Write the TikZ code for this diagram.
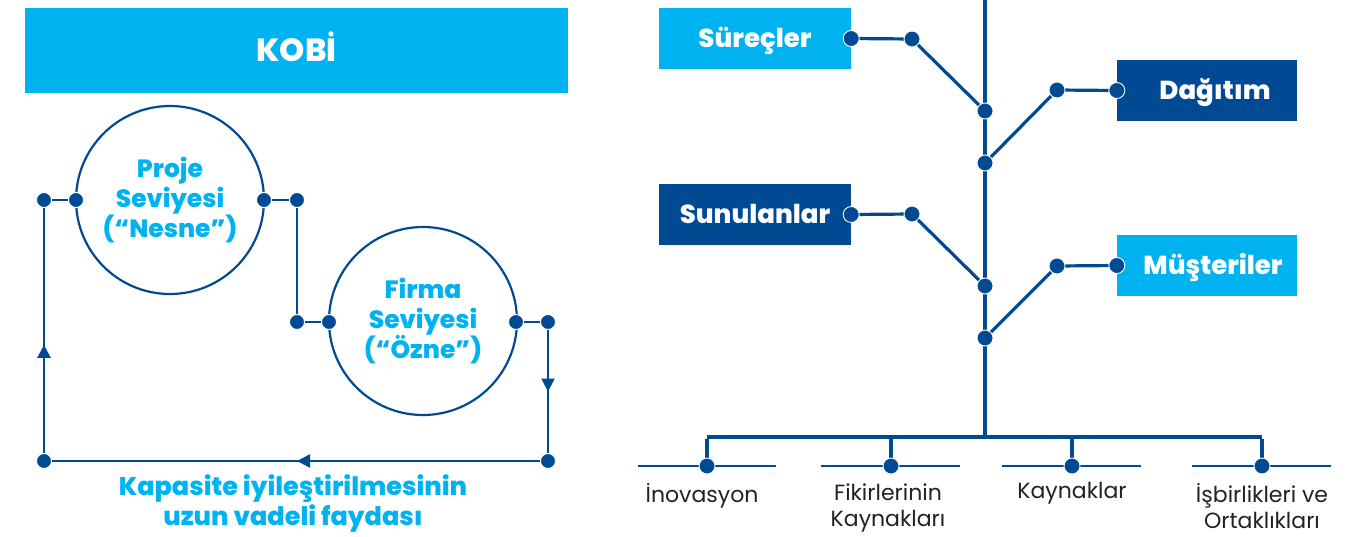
\documentclass[tikz,border=0pt]{standalone}
\usepackage{fontspec}
\setmainfont{Poppins}[BoldFont={Poppins ExtraBold}]
\usetikzlibrary{arrows.meta,decorations.markings}
\definecolor{cyanb}{HTML}{00B3F0}
\definecolor{navy}{HTML}{004A94}
\definecolor{txtgray}{HTML}{222222}
\tikzset{
  wire/.style={draw=navy, line width=3.2pt},
  loop/.style={draw=navy, line width=2.4pt},
  thin/.style={draw=navy, line width=1.1pt},
  dot/.style={circle, fill=navy, draw=white, line width=0.9pt, minimum size=16pt, inner sep=0pt},
  ring/.style={circle, draw=navy, line width=2.2pt, minimum size=188pt, inner sep=0pt,
    text=cyanb, font=\fontsize{25}{30}\selectfont\bfseries, align=center},
  tag/.style={rectangle, minimum width=192pt, minimum height=61pt, inner sep=0pt,
    text height=18.2pt, text depth=0pt,
    text=white, font=\fontsize{26}{28}\selectfont\bfseries},
  tagr/.style={tag, minimum width=180pt},
  leaf/.style={text=txtgray, font=\fontsize{22}{26}\selectfont, align=center, anchor=north},
  midarrow/.style={postaction={decorate}, decoration={markings,
    mark=at position #1 with {\arrow{Triangle[width=13pt,length=13pt]}}}},
}
\begin{document}
\begin{tikzpicture}[x=1pt, y=-1pt, navy]
\useasboundingbox (0,0) rectangle (1351,536);

% ---------- left: capability cycle ----------
\node[fill=cyanb, minimum width=543pt, minimum height=85pt, inner sep=0pt,
      text height=22.4pt, text depth=0pt,
      text=white, font=\fontsize{32}{34}\selectfont\bfseries] (kobi) at (296.5,50.5) {KOB\.I};

\node[ring] (proje) at (170,200) {Proje\\Seviyesi\\(“Nesne”)};
\node[ring] (firma) at (423,321) {Firma\\Seviyesi\\(“Özne”)};

\coordinate (a0) at (44,200);
\coordinate (a1) at (76,200);
\coordinate (a2) at (264,200);
\coordinate (a3) at (297,200);
\coordinate (a4) at (297,322);
\coordinate (a5) at (329,322);
\coordinate (a6) at (516,322);
\coordinate (a7) at (548,322);
\coordinate (a8) at (548,461);
\coordinate (a9) at (44,461);

\draw[loop] (a0) -- (a1);
\draw[loop] (a2) -- (a3) -- (a4) -- (a5);
\draw[loop] (a6) -- (a7);
\draw[loop, midarrow=0.5] (a7) -- (a8);
\draw[loop, midarrow=0.498] (a8) -- (a9);
\draw[loop, midarrow=0.445] (a9) -- (a0);

\foreach \p in {a0,a1,a2,a3,a4,a5,a6,a7,a8,a9}
  \node[dot, minimum size=15pt] at (\p) {};

\node[text=cyanb, font=\fontsize{25.5}{30}\selectfont\bfseries, align=center] (gain) at (293,504)
  {Kapasite iyileştirilmesinin\\uzun vadeli faydası};

% ---------- right: value tree ----------
\node[tag, fill=cyanb] (surec) at (755,38.5) {Süreçler};
\node[tag, fill=navy] (sunul) at (755,214.5) {Sunulanlar};
\node[tagr, fill=navy] (dagit) at (1207,90.5) {\hspace*{16pt}Dağıtım};
\node[tagr, fill=cyanb] (muste) at (1207,265.5) {\hspace*{12pt}Müşteriler};

\coordinate (top) at (985,0);
\coordinate (t1) at (985,111);
\coordinate (t2) at (985,163);
\coordinate (t3) at (985,286);
\coordinate (t4) at (985,338);
\coordinate (root) at (985,437);

\coordinate (s0) at (surec.east);
\coordinate (s1) at (912,39);
\coordinate (d0) at (dagit.west);
\coordinate (d1) at (1057,90);
\coordinate (u0) at (sunul.east);
\coordinate (u1) at (912,214);
\coordinate (m0) at (muste.west);
\coordinate (m1) at (1057,266);

\draw[wire] (top) -- (root);
\draw[wire] (s0) -- (s1) -- (t1);
\draw[wire] (t2) -- (d1) -- (d0);
\draw[wire] (u0) -- (u1) -- (t3);
\draw[wire] (t4) -- (m1) -- (m0);

% bottom bar and four leaves
\coordinate (b1) at (707,437);
\coordinate (b2) at (891,437);
\coordinate (b3) at (1072,437);
\coordinate (b4) at (1262,437);
\coordinate (l1) at (707,466);
\coordinate (l2) at (891,466);
\coordinate (l3) at (1072,466);
\coordinate (l4) at (1262,466);

\draw[wire] (b1) -- (b4);
\draw[wire] ([yshift=-1.6pt]b1) -- (l1);
\draw[wire] (b2) -- (l2);
\draw[wire] (b3) -- (l3);
\draw[wire] ([yshift=-1.6pt]b4) -- (l4);

\draw[thin] ([xshift=-69pt]l1) -- ([xshift=69pt]l1);
\draw[thin] ([xshift=-70pt]l2) -- ([xshift=69pt]l2);
\draw[thin] ([xshift=-70pt]l3) -- ([xshift=69pt]l3);
\draw[thin] ([xshift=-70pt]l4) -- ([xshift=69pt]l4);

\foreach \p in {s0,s1,d0,d1,u0,u1,m0,m1,t1,t2,t3,t4,l1,l2,l3,l4}
  \node[dot] at (\p) {};

\node[leaf] (ino) at (702,480) {\.Inovasyon};
\node[leaf] (fik) at (888,480) {Fikirlerinin\\Kaynakları};
\node[leaf] (kay) at (1072,479) {Kaynaklar};
\node[leaf] (isb) at (1262,480) {\.Işbirlikleri ve\\Ortaklıkları};
\end{tikzpicture}
\end{document}
